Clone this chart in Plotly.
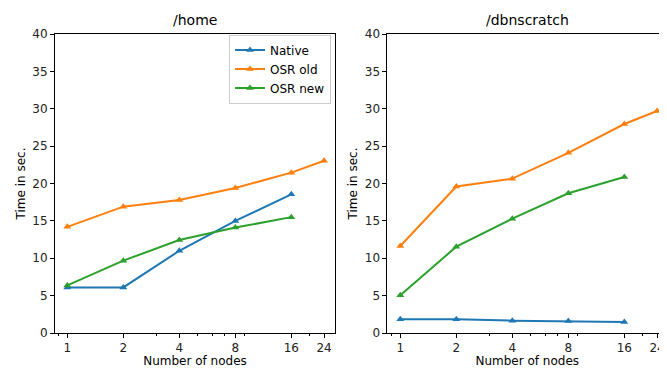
import math
import plotly.graph_objects as go

nodes = [1, 2, 4, 8, 16]
nodes_old = [1, 2, 4, 8, 16, 24]

home_native = [6.1, 6.1, 11.0, 15.0, 18.55]
home_osr_old = [14.2, 16.9, 17.8, 19.4, 21.45, 23.05]
home_osr_new = [6.37, 9.68, 12.44, 14.1, 15.5]

scratch_native = [1.83, 1.83, 1.65, 1.6, 1.47]
scratch_osr_old = [11.64, 19.6, 20.65, 24.1, 27.96, 29.7]
scratch_osr_new = [5.04, 11.55, 15.3, 18.7, 20.87]

tick_vals = [1, 2, 4, 8, 16, 24]
tick_text = ["1", "2", "4", "8", "16", "24"]
minor_vals = [0.9, 3, 5, 6, 7, 9, 20]
y_ticks = [0, 5, 10, 15, 20, 25, 30, 35, 40]

BLUE, ORANGE, GREEN = "#1f77b4", "#ff7f0e", "#2ca02c"
FONT = "DejaVu Sans"

fig = go.Figure()

def add(x, y, name, color, xa, ya, show):
    fig.add_trace(go.Scatter(
        x=x, y=y, name=name, mode="lines+markers",
        line=dict(color=color, width=2),
        marker=dict(symbol="triangle-up", size=7, color=color),
        xaxis=xa, yaxis=ya, showlegend=show))

add(nodes, home_native, "Native", BLUE, "x", "y", True)
add(nodes_old, home_osr_old, "OSR old", ORANGE, "x", "y", True)
add(nodes, home_osr_new, "OSR new", GREEN, "x", "y", True)
add(nodes, scratch_native, "Native", BLUE, "x2", "y2", False)
add(nodes_old, scratch_osr_old, "OSR old", ORANGE, "x2", "y2", False)
add(nodes, scratch_osr_new, "OSR new", GREEN, "x2", "y2", False)

L2 = math.log10(2)
def xaxis(dom, lo, hi, anchor):
    return dict(
        type="log", domain=dom, range=[lo * L2, hi * L2], anchor=anchor,
        automargin=False, ticklabeloverflow="allow",
        tickvals=tick_vals, ticktext=tick_text,
        ticks="outside", ticklen=4, tickwidth=1, tickcolor="#000",
        minor=dict(tickvals=minor_vals, ticks="outside", ticklen=2, tickwidth=0.8, tickcolor="#000"),
        showline=True, linecolor="#000", linewidth=1, mirror=True,
        showgrid=False, zeroline=False,
        title=dict(text="Number of nodes", font=dict(size=12, color="#000"), standoff=4),
        tickfont=dict(size=12, color="#222"),
    )

def yaxis(anchor):
    return dict(
        range=[0, 40], tickvals=y_ticks, anchor=anchor, automargin=False,
        ticks="outside", ticklen=4, tickwidth=1, tickcolor="#000",
        showline=True, linecolor="#000", linewidth=1, mirror=True,
        showgrid=False, zeroline=False,
        title=dict(text="Time in sec.", font=dict(size=12, color="#000"), standoff=4),
        tickfont=dict(size=12, color="#222"),
    )

# page body has an 8px default margin, so the figure is sized to fill the rest
fig.update_layout(
    width=659, height=360,
    margin=dict(l=47, r=0, t=26, b=35),
    paper_bgcolor="white", plot_bgcolor="white",
    font=dict(family=FONT, size=12, color="#000"),
    xaxis=xaxis([0, 0.4575], -0.2196, 4.78, "y"),
    yaxis=yaxis("x"),
    xaxis2=xaxis([0.5433, 1], -0.2286, 4.762, "y2"),
    yaxis2=yaxis("x2"),
    legend=dict(x=0.451, y=0.998, xanchor="right", yanchor="top",
                bordercolor="#ccc", borderwidth=1, bgcolor="rgba(255,255,255,0.8)",
                font=dict(size=12), tracegroupgap=0, itemwidth=30),
    annotations=[
        dict(text="/home", x=0.2288, y=1, xref="paper", yref="paper",
             xanchor="center", yanchor="bottom", yshift=4, showarrow=False,
             font=dict(size=14, color="#000")),
        dict(text="/dbnscratch", x=0.7717, y=1, xref="paper", yref="paper",
             xanchor="center", yanchor="bottom", yshift=4, showarrow=False,
             font=dict(size=14, color="#000")),
    ],
)

fig.write_html("out.html")
